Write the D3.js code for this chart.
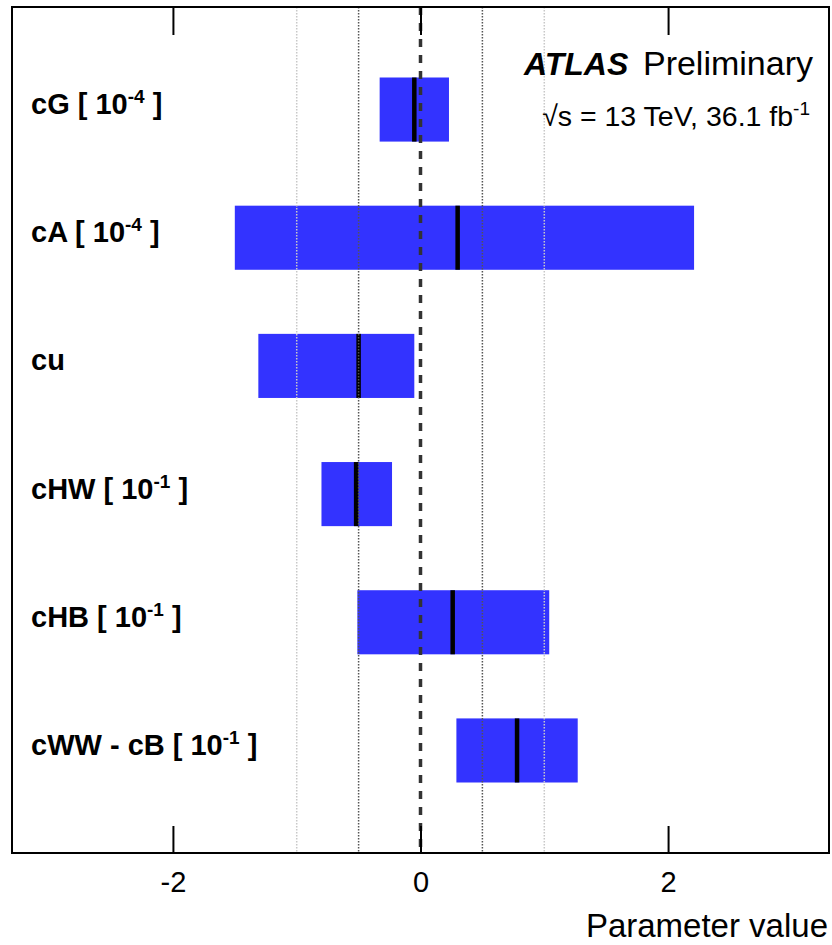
<!DOCTYPE html>
<html>
<head>
<meta charset="utf-8">
<script src="https://cdn.jsdelivr.net/npm/d3@7"></script>
<style>
  body { margin: 0; background: #fff; }
  svg { display: block; font-family: "Liberation Sans", Arial, Helvetica, sans-serif; }
</style>
</head>
<body>
<svg id="chart" width="832" height="945"></svg>
<script>
// parameter names and their scale factors
const names = ['cG', 'cA', 'cu', 'cHW', 'cHB', 'cWW - cB'];
const powers = ['-4', '-4', '', '-1', '-1', '-1'];
// best fit values and interval edges
const central = [-0.05, 0.30, -0.50, -0.52, 0.26, 0.78];
const lower = [-0.33, -1.50, -1.31, -0.80, -0.51, 0.29];
const upper = [0.23, 2.21, -0.05, -0.23, 1.04, 1.27];
const xTicks = [-2, 0, 2];
const refLines = [-1, -0.5, 0.5, 1];

const svg = d3.select('#chart');
const frameL = 12, frameR = 829, frameT = 7, frameB = 853;

const x = d3.scaleLinear().domain([-3.3, 3.3]).range([frameL, frameR]);
const y = d3.scaleLinear().domain([-0.8, 5.8]).range([frameT, frameB]);
const barH = y(0.5) - y(0);

const rows = names.map(function (n, i) {
  return { name: n, power: powers[i], c: central[i], lo: lower[i], hi: upper[i], i: i };
});

svg.append('rect').attr('width', 832).attr('height', 945).attr('fill', '#fff');

// bars
svg.append('g')
  .selectAll('rect')
  .data(rows)
  .enter()
  .append('rect')
  .attr('x', function (d) { return x(d.lo); })
  .attr('width', function (d) { return x(d.hi) - x(d.lo); })
  .attr('y', function (d) { return y(d.i) - barH / 2; })
  .attr('height', barH)
  .attr('fill', '#3333ff');

// best fit markers
svg.append('g')
  .selectAll('line')
  .data(rows)
  .enter()
  .append('line')
  .attr('x1', function (d) { return x(d.c); })
  .attr('x2', function (d) { return x(d.c); })
  .attr('y1', function (d) { return y(d.i) - barH / 2; })
  .attr('y2', function (d) { return y(d.i) + barH / 2; })
  .attr('stroke', '#000')
  .attr('stroke-width', 4.5);

// dotted reference lines
svg.append('g')
  .selectAll('line')
  .data(refLines)
  .enter()
  .append('line')
  .attr('x1', function (d) { return x(d); })
  .attr('x2', function (d) { return x(d); })
  .attr('y1', frameT)
  .attr('y2', frameB)
  .attr('stroke', function (d) { return Math.abs(d) === 1 ? '#c8c8c8' : '#555'; })
  .attr('stroke-width', 1.5)
  .attr('stroke-dasharray', '1.5,1.5');

// zero line
svg.append('line')
  .attr('x1', x(0)).attr('x2', x(0))
  .attr('y1', frameT).attr('y2', frameB)
  .attr('stroke', '#333')
  .attr('stroke-width', 3.5)
  .attr('stroke-dasharray', '8,8');

// axes, ticks pointing inwards
const xAxis = svg.append('g')
  .attr('transform', 'translate(0,' + frameB + ')')
  .call(d3.axisBottom(x).tickValues(xTicks).tickSize(-27).tickPadding(18)
    .tickFormat(function (d) { return String(d); }));
xAxis.select('.domain').remove();
xAxis.selectAll('line').attr('stroke-width', 2);
xAxis.selectAll('text')
  .attr('font-size', 29)
  .attr('font-family', '"Liberation Sans", Arial, sans-serif')
  .attr('fill', '#000');

const topAxis = svg.append('g')
  .attr('transform', 'translate(0,' + frameT + ')')
  .call(d3.axisTop(x).tickValues(xTicks).tickSize(-28).tickFormat(''));
topAxis.select('.domain').remove();
topAxis.selectAll('line').attr('stroke-width', 2);

// frame
svg.append('rect')
  .attr('x', frameL).attr('y', frameT)
  .attr('width', frameR - frameL).attr('height', frameB - frameT)
  .attr('fill', 'none')
  .attr('stroke', '#000')
  .attr('stroke-width', 2);

// parameter labels
const lab = svg.append('g')
  .selectAll('text')
  .data(rows)
  .enter()
  .append('text')
  .attr('x', 31)
  .attr('y', function (d) { return y(d.i) + 4.5; })
  .attr('font-size', 29)
  .attr('font-weight', 'bold');

lab.each(function (d) {
  const t = d3.select(this);
  if (d.power === '') {
    t.text(d.name);
    return;
  }
  t.append('tspan').text(d.name + ' [ 10');
  t.append('tspan').attr('font-size', 19).attr('dy', -11).text(d.power);
  t.append('tspan').attr('dy', 11).text(' ]');
});

// ATLAS label
svg.append('text')
  .attr('x', 524).attr('y', 75)
  .attr('font-size', 32)
  .attr('font-weight', 'bold')
  .attr('font-style', 'italic')
  .text('ATLAS');
svg.append('text')
  .attr('x', 813).attr('y', 75)
  .attr('text-anchor', 'end')
  .attr('font-size', 34)
  .text('Preliminary');

const lumi = svg.append('text')
  .attr('x', 810).attr('y', 126)
  .attr('text-anchor', 'end')
  .attr('font-size', 28.5);
lumi.append('tspan').text('\u221As = 13 TeV, 36.1 fb');
lumi.append('tspan').attr('font-size', 19).attr('dy', -11).text('-1');

// axis title
svg.append('text')
  .attr('x', 828).attr('y', 937)
  .attr('text-anchor', 'end')
  .attr('font-size', 33)
  .text('Parameter value');
</script>
</body>
</html>
